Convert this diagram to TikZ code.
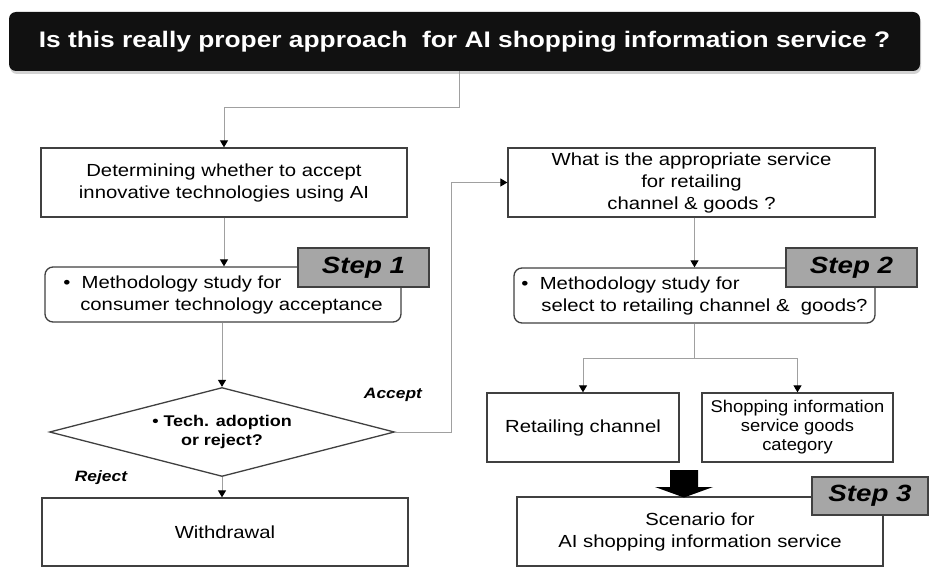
\documentclass[tikz,border=0pt]{standalone}
\usepackage{fontspec}
\setmainfont{Liberation Sans}
\newfontfamily\bxfont[FakeStretch=1.16]{Liberation Sans}
\newfontfamily\sgfont[FakeStretch=1.08]{Liberation Sans}
\newfontfamily\ttlfont[FakeStretch=1.17]{Liberation Sans}
\newfontfamily\stfont[FakeStretch=1.18]{Liberation Sans}
\usetikzlibrary{shapes.geometric,arrows.meta,shadows}
\definecolor{boxc}{HTML}{404040}
\definecolor{stepc}{HTML}{A6A6A6}
\definecolor{connc}{HTML}{A0A0A0}
\definecolor{titlec}{HTML}{111111}
\tikzset{
  box/.style={draw=boxc, line width=1.3pt, fill=white, rectangle, inner sep=0pt,
    font=\bxfont\fontsize{17.5}{22}\selectfont, align=center},
  rbox/.style={box, rounded corners=8pt},
  stepbox/.style={draw=boxc, line width=1.3pt, fill=stepc, inner sep=0pt,
    font=\stfont\bfseries\itshape\fontsize{23.5}{26}\selectfont},
  conn/.style={draw=connc, line width=1pt},
  arr/.style={conn, -{Triangle[width=8pt,length=7pt,color=black]}},
  lbl/.style={font=\bxfont\bfseries\itshape\fontsize{15}{18}\selectfont, inner sep=0pt}
}
\begin{document}
\begin{tikzpicture}[x=1pt,y=-1pt]
\useasboundingbox (0,0) rectangle (935,567);

% title
\node[fill=titlec, rounded corners=7pt, minimum width=911pt, minimum height=59pt, inner sep=0pt,
  drop shadow={shadow xshift=1pt,shadow yshift=-3pt,fill=black!35},
  text=white, font=\ttlfont\bfseries\fontsize{22.5}{26}\selectfont] (title) at (464.5,41.5)
  {Is this really proper approach\ \ for AI shopping information service ?};

% left column
\node[box, minimum width=366pt, minimum height=69pt] (box1) at (224,182.5)
  {Determining whether to accept\\innovative technologies using AI};
\node[rbox, minimum width=356pt, minimum height=55pt, align=left] (box2) at (223,294.5)
  {\textbullet\ \ Methodology study for\\\hspace*{17pt}consumer technology acceptance};
\node[stepbox, minimum width=131pt, minimum height=39pt] (step1) at (363.5,267.5) {Step 1};
\node[diamond, aspect=4, draw=boxc, line width=1.3pt, fill=white, minimum width=345pt, minimum height=89pt,
  inner sep=0pt, align=center, font=\bxfont\bfseries\fontsize{15.5}{19}\selectfont] (dia) at (222,432)
  {\textbullet\ Tech. adoption\\or reject?};
\node[box, minimum width=366pt, minimum height=68pt] (wd) at (225,532) {Withdrawal};
\node[lbl] (acc) at (393,395) {Accept};
\node[lbl] (rej) at (101,478) {Reject};

% right column
\node[box, minimum width=367pt, minimum height=69pt] (box3) at (691.5,182.5)
  {What is the appropriate service\\for retailing\\channel \& goods ?};
\node[rbox, minimum width=361pt, minimum height=55pt, align=left] (box4) at (694.5,295.5)
  {\textbullet\ \ Methodology study for\\\hspace*{20pt}select to retailing channel \&\ \ goods?};
\node[stepbox, minimum width=131pt, minimum height=39pt] (step2) at (851.5,267.5) {Step 2};
\node[box, minimum width=192pt, minimum height=69pt] (box5) at (583,427.5) {Retailing channel};
\node[box, minimum width=191pt, minimum height=69pt, font=\sgfont\fontsize{17}{19}\selectfont] (box6) at (797.5,427.5)
  {Shopping information\\service goods\\category};
\node[box, minimum width=366pt, minimum height=69pt] (scen) at (700,531.5)
  {Scenario for\\AI shopping information service};
\node[stepbox, minimum width=116pt, minimum height=38pt] (step3) at (870,496) {Step 3};

% connectors
\coordinate (t1) at (459,108);
\draw[arr] (title.south -| t1) -- (t1) -| (box1.north);
\draw[arr] (box1.south) -- (box1.south |- box2.north);
\draw[arr] (box2.south -| dia.north) -- (dia.north);
\draw[arr] (dia.south) -- (dia.south |- wd.north);
\coordinate (ac) at (451,182.5);
\draw[arr] (dia.east) -| (ac) -- (box3.west);
\draw[arr] (box3.south -| box4.north) -- (box4.north);
\coordinate (br) at (694.5,358);
\draw[conn] (box4.south) -- (br);
\draw[arr] (br) -| (box5.north);
\draw[arr] (br) -| (box6.north);

% block arrow
\fill[black] (670,470) -- (698,470) -- (698,487) -- (713,487) -- (684,497.5)
  -- (655,487) -- (670,487) -- cycle;
\end{tikzpicture}
\end{document}
